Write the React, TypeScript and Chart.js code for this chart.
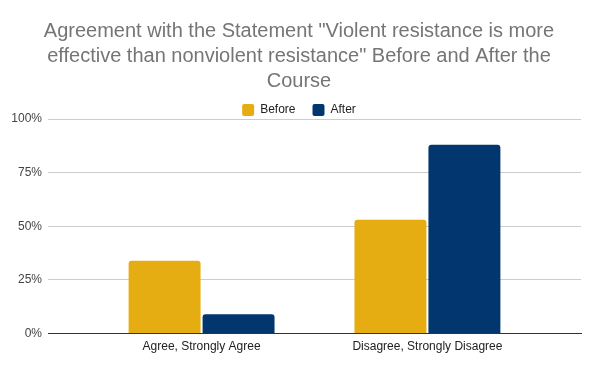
import React, { useEffect, useRef } from "react";
import { Chart, registerables } from "chart.js";

Chart.register(...registerables);

const categories = ["Agree, Strongly Agree", "Disagree, Strongly Disagree"];
const beforeValues = [34, 53];
const afterValues = [9, 88];
const seriesNames = ["Before", "After"];
const yTicks = [0, 25, 50, 75, 100];
const titleLines = [
  'Agreement with the Statement "Violent resistance is more',
  'effective than nonviolent resistance" Before and After the',
  "Course",
];

const FONT = "'Liberation Sans', Arial, sans-serif";

const legendTighten = {
  id: "legendTighten",
  afterInit(chart: any) {
    const legend = chart.legend;
    if (!legend || legend.__tightened) return;
    const origFit = legend.fit.bind(legend);
    legend.fit = function () {
      origFit();
      this.height = Math.max(0, this.height - 7);
    };
    legend.__tightened = true;
  },
};

export default function App() {
  const ref = useRef<HTMLCanvasElement | null>(null);
  useEffect(() => {
    if (!ref.current) return;
    const barStyle = {
      borderRadius: { topLeft: 3, topRight: 3, bottomLeft: 0, bottomRight: 0 },
      borderSkipped: false,
      categoryPercentage: 0.655,
      barPercentage: 0.973,
    };
    const chart = new Chart(ref.current, {
      type: "bar",
      data: {
        labels: categories,
        datasets: [
          { label: seriesNames[0], data: beforeValues, backgroundColor: "#E6AD13", ...barStyle },
          { label: seriesNames[1], data: afterValues, backgroundColor: "#01366F", ...barStyle },
        ],
      },
      plugins: [legendTighten],
      options: {
        responsive: true,
        maintainAspectRatio: false,
        animation: false,
        layout: { padding: { left: 11, right: 13, top: 5, bottom: 11 } },
        plugins: {
          title: {
            display: true,
            text: titleLines,
            color: "#757575",
            font: { family: FONT, size: 20, weight: "normal", lineHeight: 1.25 },
            padding: { top: 14, bottom: -7 },
          },
          legend: {
            display: true,
            position: "top",
            labels: {
              boxWidth: 12,
              boxHeight: 12,
              useBorderRadius: true,
              borderRadius: 2,
              color: "#222222",
              font: { family: FONT, size: 12 },
              padding: 17,
            },
          },
          tooltip: { enabled: false },
        },
        scales: {
          x: {
            type: "category",
            offset: true,
            grid: { display: false, drawTicks: false },
            border: { display: true, color: "#333333", width: 1 },
            ticks: { color: "#222222", font: { family: FONT, size: 12 }, padding: 6, maxRotation: 0 },
            afterBuildTicks: (scale: any) => {
              scale._startValue = -0.68;
              scale._valueRange = 2.36;
            },
          },
          y: {
            min: 0,
            max: 100,
            afterBuildTicks: (scale: any) => {
              scale.ticks = yTicks.map((v) => ({ value: v }));
            },
            afterFit: (scale: any) => {
              scale.width = 37;
            },
            ticks: {
              stepSize: 25,
              color: "#444444",
              font: { family: FONT, size: 12 },
              padding: 6,
              callback: (v: any) => v + "%",
            },
            grid: { color: "#cccccc", drawTicks: false },
            border: { display: false },
          },
          yRight: {
            position: "right",
            min: 0,
            max: 100,
            grid: { display: false, drawTicks: false },
            border: { display: false },
            ticks: { display: false },
            afterFit: (scale: any) => {
              scale.width = 6;
            },
          },
        },
      },
    });
    return () => chart.destroy();
  }, []);
  return (
    <div style={{ position: "fixed", left: 0, top: 0, width: 600, height: 371, background: "#fff" }}>
      <canvas ref={ref} />
    </div>
  );
}
